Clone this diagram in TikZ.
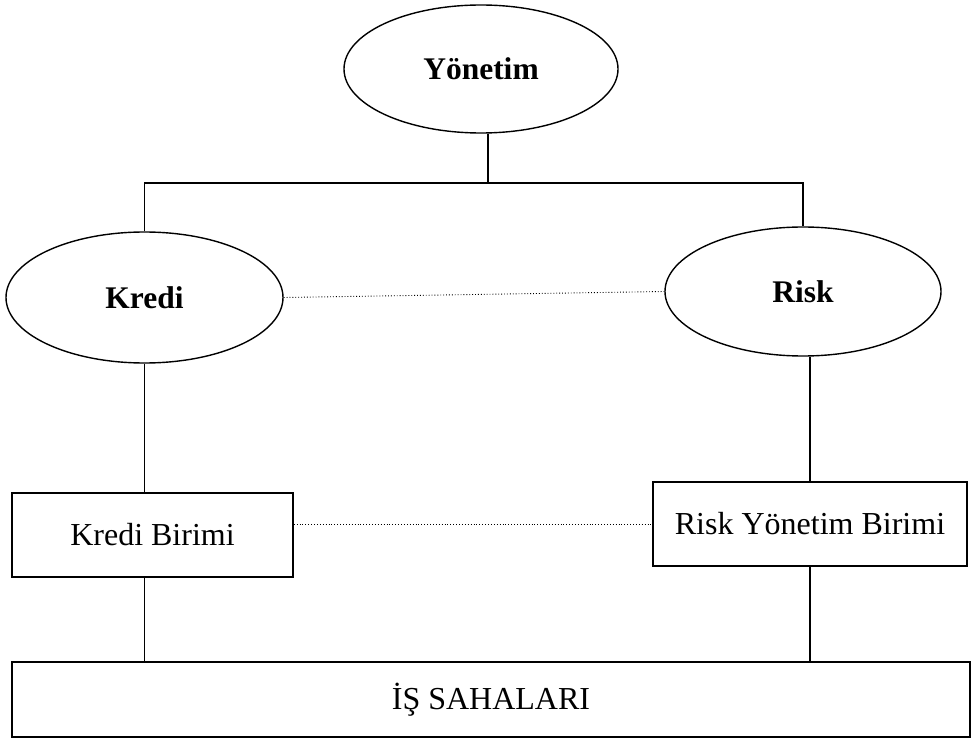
\documentclass[tikz,border=0pt]{standalone}
\usepackage{fontspec}
\setmainfont{Liberation Serif}
\usetikzlibrary{shapes.geometric,positioning,calc}

\begin{document}
\begin{tikzpicture}[
    x=1pt, y=-1pt,
    line width=1.4pt,
    oval/.style={draw, ellipse, inner sep=0pt, font=\fontsize{31.5}{38}\selectfont\bfseries},
    unit/.style={draw, rectangle, inner sep=0pt, align=center, font=\fontsize{32}{38}\selectfont},
    link/.style={dotted, line width=0.9pt},
  ]
    \useasboundingbox (0,0) rectangle (972,743);
    \node[oval, minimum width=274pt, minimum height=128pt] (yon) at (481,69) {Yönetim};
    \node[oval, minimum width=277pt, minimum height=131pt] (kredi) at (144.5,297.5) {Kredi};
    \node[oval, minimum width=276pt, minimum height=129pt] (risk) at (803,291.5) {Risk};
    \node[unit, minimum width=281pt, minimum height=84pt] (kb) at (152.5,535) {Kredi Birimi};
    \node[unit, minimum width=314pt, minimum height=84pt] (rb) at (810,524) {Risk Yönetim Birimi};
    \node[unit, minimum width=958pt, minimum height=75pt] (is) at (491,699.5) {İŞ SAHALARI};
    \coordinate (bus) at (488,183);
    \draw (yon.south -| bus) -- (bus);
    \draw (kredi.north) |- (bus) -| (risk.north);
    \draw (kredi.south) -- (kredi.south |- kb.north);
    \draw (kredi.south |- kb.south) -- (kredi.south |- is.north);
    \draw (risk.south -| rb.north) -- (rb.north);
    \draw (rb.south) -- (rb.south |- is.north);
    \draw[link] (kredi.east) -- (risk.west);
    \draw[link] (rb.west -| kb.east) -- (rb.west);
  \end{tikzpicture}
\end{document}
